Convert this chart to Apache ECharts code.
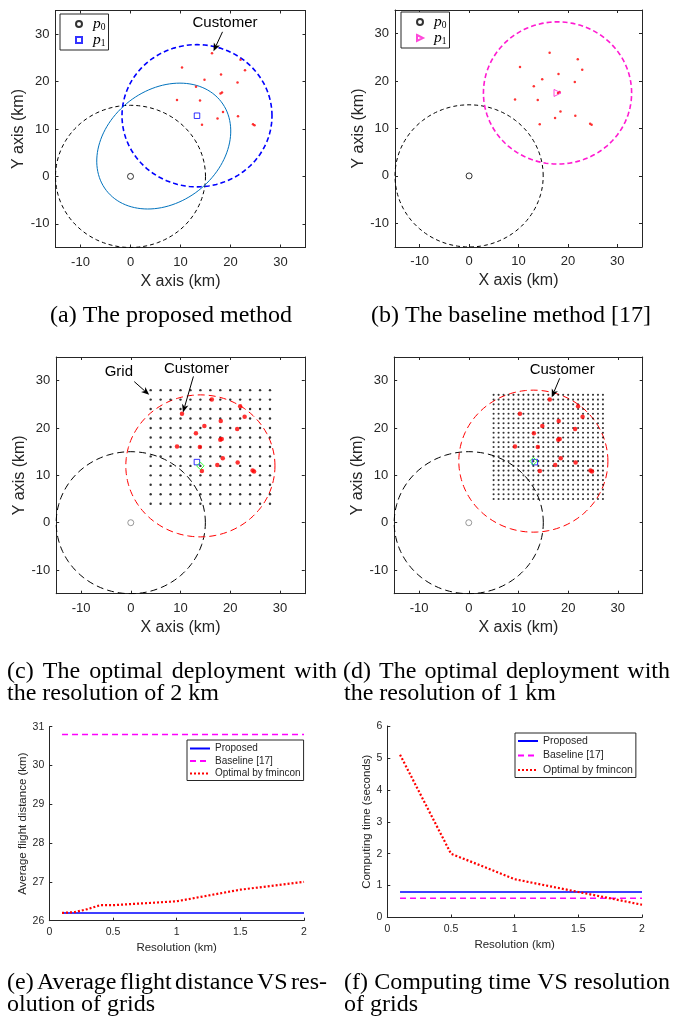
<!DOCTYPE html>
<html><head><meta charset="utf-8">
<script src="https://cdn.jsdelivr.net/npm/echarts@6/dist/echarts.min.js"></script>
<style>html,body{margin:0;padding:0;background:#fff}#c{width:676px;height:1020px}</style>
</head><body><div id="c"></div><script>
// ---------------- data ----------------
const customers = [[16.3,26.0],[22.0,24.6],[10.3,23.0],[22.9,22.4],[18.1,21.5],[14.8,20.4],[21.4,19.8],[13.1,18.9],[18.0,17.5],[18.3,17.7],[9.3,16.1],[13.9,16.0],[18.5,13.6],[21.5,12.7],[17.4,12.2],[14.3,10.9],[24.5,11.0],[24.8,10.8]];
const depot = [0, 0];                 // p0
const coverRadiusKm = 15;
const p1Proposed = [13.3, 12.8];
const p1Baseline = [17.9, 17.5];
const p1OptGrid2 = [14, 12];
const p1OptGrid1 = [13, 13];
const gridSpec2km = [4, 28, 2];       // start, end, step
const gridSpec1km = [5, 27, 1];
const ellipseFoci = [[0, 0], [13.3, 12.8]];
const ellipseDistSum = 29.7;
const kmTicks = [-10, 0, 10, 20, 30];

const resDist = [0.1, 0.2, 0.3, 0.4, 0.5, 1.0, 1.5, 2.0];
const distProposed = [26.2, 26.2, 26.2, 26.2, 26.2, 26.2, 26.2, 26.2];
const distBaseline = [30.8, 30.8, 30.8, 30.8, 30.8, 30.8, 30.8, 30.8];
const distOptimal = [26.2, 26.22, 26.3, 26.4, 26.4, 26.5, 26.8, 27.0];
const resTime = [0.1, 0.5, 1.0, 1.5, 2.0];
const timeProposed = [0.8, 0.8, 0.8, 0.8, 0.8];
const timeBaseline = [0.6, 0.6, 0.6, 0.6, 0.6];
const timeOptimal = [5.1, 2.0, 1.2, 0.8, 0.4];

// annotations: [label, textX, textY, fromX, fromY, toX, toY]
const annotA = [['Customer', 18.9, 32.3, 18.4, 30.5, 16.6, 26.4]];
const annotC = [['Grid', -2.4, 31.8, 0.7, 29.8, 3.7, 27.0], ['Customer', 13.2, 32.5, 12.6, 30.9, 10.5, 23.3]];
const annotD = [['Customer', 18.8, 32.3, 18.3, 30.5, 16.7, 26.5]];

// ---------------- helpers ----------------
const FONT = '"Liberation Sans", Arial, Helvetica, sans-serif';
const SERIF = '"Liberation Serif", "Times New Roman", serif';
const AX = '#262626';

function circlePts(c, r) {
  const pts = [];
  for (let i = 0; i <= 240; i++) { const t = 2 * Math.PI * i / 240; pts.push([c[0] + r * Math.cos(t), c[1] + r * Math.sin(t)]); }
  return pts;
}
function ellipsePts(f, sum) {
  const cx = (f[0][0] + f[1][0]) / 2, cy = (f[0][1] + f[1][1]) / 2;
  const c = Math.hypot(f[1][0] - f[0][0], f[1][1] - f[0][1]) / 2, a = sum / 2, b = Math.sqrt(a * a - c * c);
  const th = Math.atan2(f[1][1] - f[0][1], f[1][0] - f[0][0]);
  const pts = [];
  for (let i = 0; i <= 240; i++) {
    const t = 2 * Math.PI * i / 240, x = a * Math.cos(t), y = b * Math.sin(t);
    pts.push([cx + x * Math.cos(th) - y * Math.sin(th), cy + x * Math.sin(th) + y * Math.cos(th)]);
  }
  return pts;
}
function gridPts(s) {
  const pts = [];
  for (let x = s[0]; x <= s[1] + 1e-9; x += s[2]) for (let y = s[0]; y <= s[1] + 1e-9; y += s[2]) pts.push([x, y]);
  return pts;
}
function zip(xs, ys) { return xs.map((x, i) => [x, ys[i]]); }

const grids = [
  {left: 55.5, top: 10.5, width: 250, height: 237},
  {left: 395, top: 10, width: 247, height: 237},
  {left: 56.2, top: 357, width: 248.6, height: 236.7},
  {left: 394.2, top: 357, width: 248.5, height: 236.7},
  {left: 49.3, top: 726.7, width: 254.7, height: 194},
  {left: 387.3, top: 726, width: 254.7, height: 191.5}
];

const xAxes = [], yAxes = [];
function lineAx() { return {show: true, onZero: false, lineStyle: {color: AX, width: 1}}; }
function tickAx(vals, len) { const t = {show: true, inside: true, length: len, lineStyle: {color: AX, width: 1}}; if (vals) t.customValues = vals; return t; }
for (let g = 0; g < 4; g++) {
  xAxes.push({gridIndex: g, type: 'value', min: -15, max: 35, position: 'bottom', splitLine: {show: false},
    axisLine: lineAx(), axisTick: tickAx(kmTicks, 3),
    axisLabel: {customValues: kmTicks, color: AX, fontSize: 13, fontFamily: FONT, margin: 8},
    name: 'X axis (km)', nameLocation: 'middle', nameGap: 26, nameTextStyle: {fontSize: 16, color: AX, fontFamily: FONT}});
  xAxes.push({gridIndex: g, type: 'value', min: -15, max: 35, position: 'top', splitLine: {show: false},
    axisLine: lineAx(), axisTick: tickAx(kmTicks, 3), axisLabel: {show: false}});
  yAxes.push({gridIndex: g, type: 'value', min: -15, max: 35, position: 'left', splitLine: {show: false},
    axisLine: lineAx(), axisTick: tickAx(kmTicks, 3),
    axisLabel: {customValues: kmTicks, color: AX, fontSize: 13, fontFamily: FONT, margin: 6},
    name: 'Y axis (km)', nameLocation: 'middle', nameGap: 28, nameRotate: 90, nameTextStyle: {fontSize: 16, color: AX, fontFamily: FONT}});
  yAxes.push({gridIndex: g, type: 'value', min: -15, max: 35, position: 'right', splitLine: {show: false},
    axisLine: lineAx(), axisTick: tickAx(kmTicks, 3), axisLabel: {show: false}});
}
// e
xAxes.push({gridIndex: 4, type: 'value', min: 0, max: 2, interval: 0.5, position: 'bottom', splitLine: {show: false},
  axisLine: lineAx(), axisTick: tickAx(null, 3), axisLabel: {color: AX, fontSize: 10.5, fontFamily: FONT, margin: 6},
  name: 'Resolution (km)', nameLocation: 'middle', nameGap: 21, nameTextStyle: {fontSize: 11.5, color: AX, fontFamily: FONT}});
yAxes.push({gridIndex: 4, type: 'value', min: 26, max: 31, interval: 1, position: 'left', splitLine: {show: false},
  axisLine: lineAx(), axisTick: tickAx(null, 3), axisLabel: {color: AX, fontSize: 10.5, fontFamily: FONT, margin: 5},
  name: 'Average flight distance (km)', nameLocation: 'middle', nameGap: 19, nameRotate: 90, nameTextStyle: {fontSize: 11.5, color: AX, fontFamily: FONT}});
// f
xAxes.push({gridIndex: 5, type: 'value', min: 0, max: 2, interval: 0.5, position: 'bottom', splitLine: {show: false},
  axisLine: lineAx(), axisTick: tickAx(null, 3), axisLabel: {color: AX, fontSize: 10.5, fontFamily: FONT, margin: 6},
  name: 'Resolution (km)', nameLocation: 'middle', nameGap: 21, nameTextStyle: {fontSize: 11.5, color: AX, fontFamily: FONT}});
yAxes.push({gridIndex: 5, type: 'value', min: 0, max: 6, interval: 1, position: 'left', splitLine: {show: false},
  axisLine: lineAx(), axisTick: tickAx(null, 3), axisLabel: {color: AX, fontSize: 10.5, fontFamily: FONT, margin: 5},
  name: 'Computing time (seconds)', nameLocation: 'middle', nameGap: 14, nameRotate: 90, nameTextStyle: {fontSize: 11.5, color: AX, fontFamily: FONT}});

const series = [];
function ax(p) { return {xAxisIndex: 2 * p, yAxisIndex: 2 * p}; }
function curve(p, pts, color, width, dash, name) {
  series.push(Object.assign({type: 'line', name: name || ('c' + series.length), data: pts, symbol: 'none', showSymbol: false, silent: true,
    lineStyle: {color: color, width: width, type: dash || 'solid'}, z: 2}, ax(p)));
}
function dots(p, pts, color, size, name, z) {
  series.push(Object.assign({type: 'scatter', name: name || ('d' + series.length), data: pts, symbol: 'circle', symbolSize: size, silent: true,
    itemStyle: {color: color}, z: z || 3}, ax(p)));
}
function marker(p, pt, symbol, size, color, name, rot) {
  series.push(Object.assign({type: 'scatter', name: name || ('m' + series.length), data: [pt], symbol: symbol, symbolSize: size, symbolRotate: rot || 0, silent: true,
    itemStyle: {color: 'rgba(255,255,255,0)', borderColor: color, borderWidth: 1}, z: 5}, ax(p)));
}
function annotate(p, list) {
  series.push(Object.assign({type: 'custom', silent: true, z: 6, clip: false,
    data: list.map(a => a.slice(1)),
    renderItem: function (params, api) {
      const t = api.coord([api.value(0), api.value(1)]);
      const s = api.coord([api.value(2), api.value(3)]);
      const e = api.coord([api.value(4), api.value(5)]);
      const dx = e[0] - s[0], dy = e[1] - s[1], L = Math.hypot(dx, dy), ux = dx / L, uy = dy / L, px = -uy, py = ux;
      const hl = 8, hw = 3.3, nt = 6;
      const b = [e[0] - ux * hl, e[1] - uy * hl], n = [e[0] - ux * nt, e[1] - uy * nt];
      return {type: 'group', children: [
        {type: 'line', shape: {x1: s[0], y1: s[1], x2: n[0], y2: n[1]}, style: {stroke: '#000', lineWidth: 1}},
        {type: 'polygon', shape: {points: [e, [b[0] + px * hw, b[1] + py * hw], n, [b[0] - px * hw, b[1] - py * hw]]}, style: {fill: '#000'}},
        {type: 'text', x: t[0], y: t[1], style: {text: list[params.dataIndex][0], fontSize: 15, fontFamily: FONT, fill: '#000', textAlign: 'center', textVerticalAlign: 'middle'}}
      ]};
    }}, ax(p)));
}

const TRI_RIGHT = 'path://M0,0L10,5L0,10Z';

// (a)
curve(0, circlePts(depot, coverRadiusKm), '#000', 1, [4, 3]);
curve(0, circlePts(p1Proposed, coverRadiusKm), '#0000ff', 1.6, [5, 3]);
curve(0, ellipsePts(ellipseFoci, ellipseDistSum), '#0072bd', 1);
dots(0, customers, '#ff0000', 2.5);
marker(0, depot, 'circle', 6, '#000', 'p0a');
marker(0, p1Proposed, 'rect', 5.5, '#0000ff', 'p1a');
annotate(0, annotA);
// (b)
curve(1, circlePts(depot, coverRadiusKm), '#000', 1, [4, 3]);
curve(1, circlePts(p1Baseline, coverRadiusKm), '#ff1ad1', 1.6, [5, 3]);
dots(1, customers, '#ff0000', 2.5);
marker(1, depot, 'circle', 6, '#000', 'p0b');
marker(1, p1Baseline, TRI_RIGHT, 7, '#ff1ad1', 'p1b');
// (c)
dots(2, gridPts(gridSpec2km), '#000', 2.4, null, 2);
curve(2, circlePts(depot, coverRadiusKm), '#000', 1, [7, 4]);
curve(2, circlePts(p1OptGrid2, coverRadiusKm), '#ff0000', 1, [7, 4]);
dots(2, customers, '#ff0000', 4.5);
marker(2, depot, 'circle', 6, '#7f7f7f');
marker(2, p1Proposed, 'rect', 5.5, '#0000ff');
marker(2, p1OptGrid2, 'diamond', 7.5, '#00ff00');
annotate(2, annotC);
// (d)
dots(3, gridPts(gridSpec1km), '#000', 2.1, null, 2);
curve(3, circlePts(depot, coverRadiusKm), '#000', 1, [7, 4]);
curve(3, circlePts(p1OptGrid1, coverRadiusKm), '#ff0000', 1, [7, 4]);
dots(3, customers, '#ff0000', 4.5);
marker(3, depot, 'circle', 6, '#7f7f7f');
marker(3, p1Proposed, 'rect', 5.5, '#0000ff');
marker(3, p1OptGrid1, 'diamond', 7.5, '#00ff00');
annotate(3, annotD);
// (e), (f)
function perf(p, xs, ys, name, color, width, dash) {
  series.push({type: 'line', name: name, xAxisIndex: p, yAxisIndex: p, data: zip(xs, ys), symbol: 'none', showSymbol: false, silent: true,
    itemStyle: {color: color}, lineStyle: {color: color, width: width, type: dash}, z: 3});
}
perf(8, resDist, distProposed, 'Proposed', '#0000ff', 1.5, 'solid');
perf(8, resDist, distBaseline, 'Baseline [17]', '#ff00ff', 1.5, [6, 4]);
perf(8, resDist, distOptimal, 'Optimal by fmincon', '#ff0000', 2.2, [2, 2]);
perf(9, resTime, timeProposed, 'Proposed', '#0000ff', 1.5, 'solid');
perf(9, resTime, timeBaseline, 'Baseline [17]', '#ff00ff', 1.5, [6, 4]);
perf(9, resTime, timeOptimal, 'Optimal by fmincon', '#ff0000', 2.2, [2, 2]);

const pRich = {
  g: {width: 6},
  i: {fontFamily: SERIF, fontStyle: 'italic', fontSize: 15.5, lineHeight: 16, color: '#000'},
  s: {fontFamily: SERIF, fontSize: 9.5, lineHeight: 14, verticalAlign: 'bottom', color: '#000'}
};
function pLegend(left, top, items) {
  return {left: left, top: top, orient: 'vertical', selectedMode: false, backgroundColor: '#fff', data: items,
    borderColor: AX, borderWidth: 1, borderRadius: 0, padding: [2, 3, 2, 15], itemWidth: 6, itemHeight: 6, itemGap: 0,
    formatter: n => '{g|}{i|p}{s|' + n[1] + '}', textStyle: {rich: pRich}};
}
function perfLegend(left, top, fs, gap, padTop) {
  return {left: left, top: top, orient: 'vertical', data: ['Proposed', 'Baseline [17]', 'Optimal by fmincon'], selectedMode: false,
    backgroundColor: '#fff', borderColor: AX, borderWidth: 1, borderRadius: 0, padding: [padTop, 3, 2, 2], itemWidth: 20, itemHeight: 10, itemGap: gap,
    itemStyle: {opacity: 0}, textStyle: {fontSize: fs, color: AX, fontFamily: FONT}};
}

// captions: [text, x, y, align, justifyRightEdge]
const CAP_SIZE = 24;
const captions = [
  ['(a) The proposed method', 171, 316, 'center'],
  ['(b) The baseline method [17]', 511, 316, 'center'],
  ['(c) The optimal deployment with', 7, 672, 'left', 337],
  ['the resolution of 2 km', 7, 694, 'left'],
  ['(d) The optimal deployment with', 343, 672, 'left', 670],
  ['the resolution of 1 km', 344, 694, 'left'],
  ['(e) Average flight distance VS res-', 7, 983, 'left', 327],
  ['olution of grids', 7, 1005, 'left'],
  ['(f) Computing time VS resolution', 344, 983, 'left', 670],
  ['of grids', 344, 1005, 'left']
];
const mctx = document.createElement('canvas').getContext('2d');
function capStyle(text, align) {
  return {text: text, fontSize: CAP_SIZE, fontFamily: SERIF, fill: '#000', textAlign: align, textVerticalAlign: 'middle'};
}
const captionEls = [];
captions.forEach(c => {
  if (!c[4]) { captionEls.push({type: 'text', x: c[1], y: c[2], silent: true, style: capStyle(c[0], c[3])}); return; }
  mctx.font = CAP_SIZE + 'px ' + SERIF;
  const words = c[0].split(' ');
  const w = words.map(s => mctx.measureText(s).width);
  const gap = (c[4] - c[1] - w.reduce((a, b) => a + b, 0)) / (words.length - 1);
  let x = c[1];
  words.forEach((s, i) => { captionEls.push({type: 'text', x: x, y: c[2], silent: true, style: capStyle(s, 'left')}); x += w[i] + gap; });
});

const chart = echarts.init(document.getElementById('c'), null, {renderer: 'canvas', width: 676, height: 1020});
chart.setOption({
  animation: false,
  backgroundColor: '#fff',
  grid: grids,
  xAxis: xAxes,
  yAxis: yAxes,
  legend: [
    pLegend(60, 14, ['p0a', 'p1a']),
    pLegend(401, 12, ['p0b', {name: 'p1b', icon: TRI_RIGHT}]),
    perfLegend(187, 740, 10, 2.5, 3.5),
    perfLegend(515, 733, 10.5, 3.5, 2.5)
  ],
  series: series,
  graphic: captionEls
});
</script></body></html>
